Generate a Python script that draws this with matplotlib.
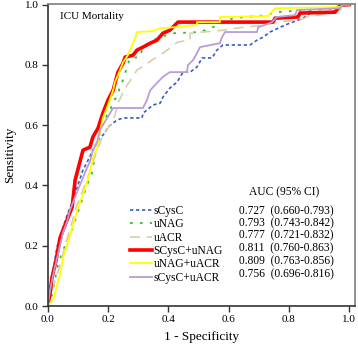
import matplotlib
matplotlib.use('Agg')
import matplotlib.pyplot as plt

plt.rcParams['font.family'] = ['Liberation Serif', 'DejaVu Serif']

# ── ROC data ─────────────────────────────────────────────
labels = ['sCysC', 'uNAG', 'uACR', 'SCysC+uNAG', 'uNAG+uACR', 'sCysC+uACR']
auc_text = ['0.727  (0.660-0.793)', '0.793  (0.743-0.842)', '0.777  (0.721-0.832)',
            '0.811  (0.760-0.863)', '0.809  (0.763-0.856)', '0.756  (0.696-0.816)']

fpr_scysc = [0, 0.008, 0.014, 0.024, 0.031, 0.041, 0.051, 0.067, 0.084, 0.100, 0.117, 0.134,
             0.150, 0.164, 0.173, 0.190, 0.200, 0.217, 0.230, 0.250, 0.313, 0.316, 0.329,
             0.349, 0.373, 0.382, 0.405, 0.429, 0.449, 0.472, 0.495, 0.512, 0.545, 0.561,
             0.581, 0.671, 0.694, 0.714, 0.737, 0.771, 0.804, 0.847, 0.870, 0.927, 0.946,
             0.970, 1.0]
tpr_scysc = [0, 0.053, 0.096, 0.153, 0.196, 0.229, 0.262, 0.308, 0.352, 0.401, 0.451, 0.484,
             0.517, 0.544, 0.557, 0.574, 0.594, 0.607, 0.617, 0.624, 0.624, 0.640, 0.650,
             0.667, 0.673, 0.693, 0.723, 0.743, 0.776, 0.776, 0.793, 0.823, 0.823, 0.849,
             0.866, 0.866, 0.882, 0.892, 0.909, 0.925, 0.939, 0.955, 0.972, 0.972, 0.975,
             0.998, 1.0]

fpr_unag = [0, 0.014, 0.024, 0.034, 0.051, 0.067, 0.084, 0.097, 0.114, 0.130, 0.147, 0.157,
            0.164, 0.173, 0.180, 0.197, 0.207, 0.213, 0.233, 0.240, 0.250, 0.263, 0.273,
            0.306, 0.316, 0.349, 0.373, 0.396, 0.416, 0.505, 0.548, 0.615, 0.727, 0.754,
            0.970, 0.993, 1.0]
tpr_unag = [0, 0.036, 0.086, 0.136, 0.186, 0.219, 0.262, 0.302, 0.352, 0.401, 0.441, 0.501,
            0.544, 0.574, 0.607, 0.633, 0.643, 0.673, 0.700, 0.733, 0.750, 0.793, 0.823,
            0.826, 0.859, 0.882, 0.892, 0.899, 0.905, 0.909, 0.925, 0.955, 0.965, 0.975,
            0.988, 1.0, 1.0]

fpr_uacr = [0, 0.014, 0.028, 0.041, 0.054, 0.067, 0.081, 0.097, 0.114, 0.130, 0.147, 0.164,
            0.183, 0.207, 0.223, 0.233, 0.246, 0.263, 0.280, 0.296, 0.323, 0.346, 0.382,
            0.405, 0.416, 0.432, 0.472, 0.472, 0.515, 0.581, 0.648, 0.721, 0.760, 0.837,
            0.860, 0.937, 0.986, 1.0]
tpr_uacr = [0, 0.053, 0.093, 0.136, 0.186, 0.232, 0.279, 0.335, 0.378, 0.418, 0.468, 0.517,
            0.567, 0.600, 0.633, 0.673, 0.700, 0.733, 0.756, 0.783, 0.799, 0.816, 0.839,
            0.856, 0.866, 0.876, 0.882, 0.905, 0.909, 0.915, 0.925, 0.932, 0.942, 0.949,
            0.959, 0.972, 0.988, 1.0]

fpr_scysc_unag = [0, 0.008, 0.014, 0.028, 0.041, 0.051, 0.064, 0.081, 0.091, 0.117, 0.140,
                  0.150, 0.167, 0.183, 0.200, 0.217, 0.233, 0.250, 0.257, 0.283, 0.296, 0.316,
                  0.340, 0.362, 0.382, 0.405, 0.422, 0.432, 0.747, 0.754, 0.830, 0.837, 0.953,
                  0.970, 1.0]
tpr_scysc_unag = [0, 0.043, 0.093, 0.153, 0.226, 0.252, 0.285, 0.328, 0.418, 0.517, 0.527,
                  0.561, 0.590, 0.640, 0.683, 0.716, 0.776, 0.806, 0.826, 0.832, 0.849, 0.859,
                  0.872, 0.882, 0.905, 0.915, 0.932, 0.942, 0.942, 0.955, 0.959, 0.972, 0.975,
                  0.998, 1.0]

fpr_unag_uacr = [0, 0.018, 0.031, 0.041, 0.051, 0.067, 0.084, 0.100, 0.124, 0.140, 0.150,
                 0.164, 0.173, 0.183, 0.200, 0.217, 0.223, 0.233, 0.250, 0.266, 0.280, 0.290,
                 0.296, 0.349, 0.373, 0.422, 0.495, 0.495, 0.571, 0.571, 0.731, 0.754, 0.970,
                 0.980, 1.0]
tpr_unag_uacr = [0, 0.020, 0.070, 0.103, 0.159, 0.212, 0.269, 0.325, 0.391, 0.444, 0.491,
                 0.527, 0.577, 0.624, 0.667, 0.716, 0.743, 0.766, 0.809, 0.832, 0.866, 0.889,
                 0.909, 0.912, 0.922, 0.925, 0.932, 0.942, 0.942, 0.959, 0.962, 0.988, 0.992,
                 1.0, 1.0]

fpr_scysc_uacr = [0, 0.008, 0.018, 0.028, 0.041, 0.051, 0.064, 0.074, 0.087, 0.100, 0.114,
                  0.130, 0.140, 0.150, 0.164, 0.173, 0.183, 0.197, 0.207, 0.217, 0.316, 0.329,
                  0.340, 0.362, 0.382, 0.405, 0.462, 0.465, 0.482, 0.495, 0.505, 0.571, 0.578,
                  0.588, 0.694, 0.698, 0.737, 0.744, 0.760, 0.820, 0.827, 0.970, 0.980, 1.0]
tpr_scysc_uacr = [0, 0.053, 0.103, 0.146, 0.202, 0.245, 0.279, 0.318, 0.352, 0.385, 0.418,
                  0.458, 0.478, 0.517, 0.544, 0.584, 0.600, 0.624, 0.640, 0.657, 0.657, 0.683,
                  0.716, 0.740, 0.760, 0.776, 0.776, 0.799, 0.816, 0.839, 0.859, 0.872, 0.892,
                  0.909, 0.909, 0.925, 0.939, 0.942, 0.959, 0.965, 0.982, 0.988, 1.0, 1.0]

curves = [(fpr_scysc, tpr_scysc), (fpr_unag, tpr_unag), (fpr_uacr, tpr_uacr),
          (fpr_scysc_unag, tpr_scysc_unag), (fpr_unag_uacr, tpr_unag_uacr),
          (fpr_scysc_uacr, tpr_scysc_uacr)]

styles = [
    dict(color='#3a5bc4', lw=1.2, ls=(0, (2, 1.6))),
    dict(color='#2fbf2f', lw=1.3, ls=(0, (1.5, 4))),
    dict(color='#d8cfa8', lw=1.2, ls=(0, (6, 4))),
    dict(color='#ff0000', lw=2.6, ls='-'),
    dict(color='#ffff00', lw=1.3, ls='-'),
    dict(color='#b99cd8', lw=1.3, ls='-'),
]

# ── PLOT ──────────────────────────────────────────────────
fig = plt.figure(figsize=(3.58, 3.49), dpi=100)
ax = fig.add_axes([0.1332, 0.1232, 0.8584, 0.8653])

for (x, y), lab, st in zip(curves, labels, styles):
    ax.plot(x, y, label=lab, **st)

ax.set_xlim(0, 1.019)
ax.set_ylim(0, 1.002)
ax.set_xticks([0, 0.2, 0.4, 0.6, 0.8, 1.0])
ax.set_yticks([0, 0.2, 0.4, 0.6, 0.8, 1.0])
ax.set_xticklabels(['0.0', '0.2', '0.4', '0.6', '0.8', '1.0'])
ax.set_yticklabels(['0.0', '0.2', '0.4', '0.6', '0.8', '1.0'])
ax.tick_params(direction='out', length=4, width=1, labelsize=8, pad=2.5, color='#333333')

for s in ['left', 'bottom']:
    ax.spines[s].set_color('#333333')
    ax.spines[s].set_linewidth(1.2)
for s in ['top', 'right']:
    ax.spines[s].set_color('#888888')
    ax.spines[s].set_linewidth(1.3)

ax.set_xlabel('1 - Specificity', fontsize=9.5, labelpad=5)
ax.set_ylabel('Sensitivity', fontsize=9.5, labelpad=6)

ax.text(0.040, 0.957, 'ICU Mortality', transform=ax.transAxes, fontsize=8, va='center')

leg = ax.legend(loc='upper left', bbox_to_anchor=(0.268, 0.335), frameon=False,
                fontsize=8.3, handlelength=1.88, handletextpad=0.15, labelspacing=0.12,
                borderpad=0, borderaxespad=0)

ax.text(0.769, 0.376, 'AUC (95% CI)', transform=ax.transAxes, fontsize=8.3,
        ha='center', va='center')
row_y = [0.312, 0.273, 0.233, 0.190, 0.147, 0.105]
for yy, t in zip(row_y, auc_text):
    ax.text(0.6225, yy, t, transform=ax.transAxes, fontsize=8.3, va='center')

plt.savefig('out.png', dpi=100)
